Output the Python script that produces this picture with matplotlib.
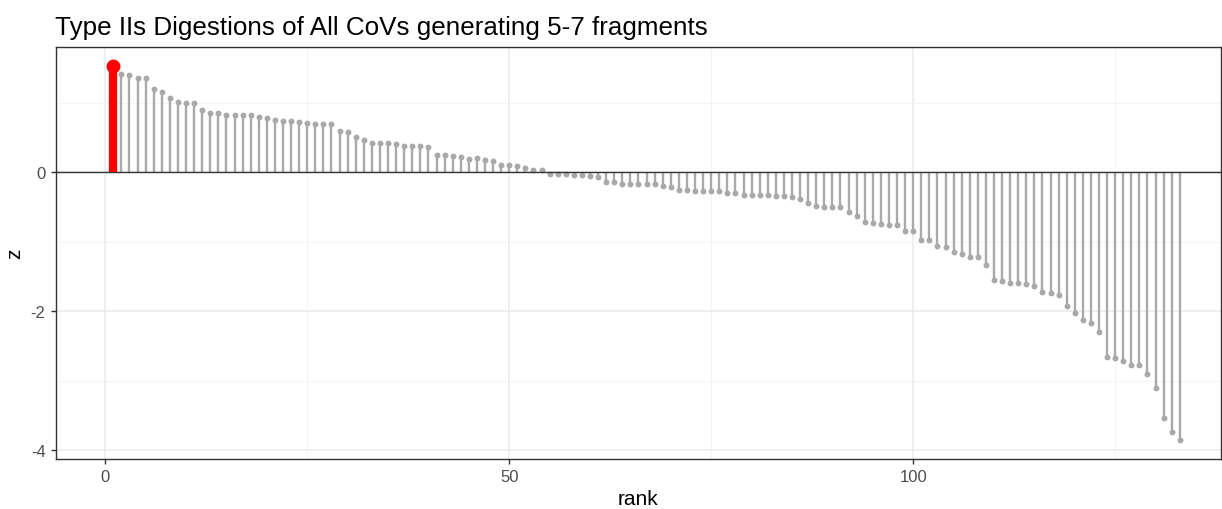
import matplotlib
matplotlib.use("Agg")
import matplotlib.pyplot as plt
import numpy as np

title = "Type IIs Digestions of All CoVs generating 5-7 fragments"
x_label = "rank"
y_label = "z"

z_values = [
    1.53, 1.414, 1.40, 1.357, 1.357, 1.20, 1.155, 1.064, 1.016, 0.997,
    0.997, 0.896, 0.858, 0.858, 0.824, 0.824, 0.83, 0.83, 0.80, 0.78,
    0.753, 0.733, 0.733, 0.72, 0.705, 0.69, 0.69, 0.69, 0.60, 0.585,
    0.508, 0.46, 0.426, 0.417, 0.417, 0.403, 0.383, 0.383, 0.383, 0.369,
    0.249, 0.249, 0.23, 0.216, 0.196, 0.20, 0.18, 0.167, 0.11, 0.11,
    0.09, 0.062, 0.03, 0.03, -0.019, -0.019, -0.019, -0.034, -0.034, -0.053,
    -0.072, -0.134, -0.134, -0.163, -0.163, -0.173, -0.173, -0.173, -0.19, -0.206,
    -0.254, -0.254, -0.27, -0.27, -0.27, -0.27, -0.297, -0.297, -0.326, -0.326,
    -0.326, -0.326, -0.345, -0.345, -0.36, -0.38, -0.436, -0.484, -0.503, -0.503,
    -0.503, -0.575, -0.624, -0.72, -0.73, -0.748, -0.763, -0.763, -0.839, -0.839,
    -0.978, -0.978, -1.055, -1.07, -1.147, -1.18, -1.223, -1.223, -1.334, -1.55,
    -1.568, -1.597, -1.597, -1.612, -1.64, -1.718, -1.737, -1.765, -1.92, -2.03,
    -2.12, -2.165, -2.29, -2.66, -2.676, -2.72, -2.768, -2.768, -2.906, -3.108,
    -3.54, -3.74, -3.847,
]
highlight_rank = 1

x_major_ticks = [0, 50, 100]
x_minor_ticks = [25, 75, 125]
y_major_ticks = [-4, -2, 0]
y_minor_ticks = [-3, -1, 1]

ranks = np.arange(1, len(z_values) + 1)
z = np.array(z_values)

plt.rcParams['font.family'] = ['Liberation Sans', 'DejaVu Sans']
plt.rcParams['axes.unicode_minus'] = False

fig = plt.figure(figsize=(12.22, 5.10), dpi=100)
ax = fig.add_axes([0.0458, 0.098, 0.9534, 0.8073])

grey = "#A9A9A9"
mask = ranks != highlight_rank
ax.vlines(ranks[mask], 0, z[mask], color=grey, linewidth=1.7, zorder=3)
ax.scatter(ranks[mask], z[mask], s=18, color=grey, zorder=4, linewidths=0)
hm = ~mask
ax.vlines(ranks[hm], 0, z[hm], color="#FF0000", linewidth=6, zorder=5)
ax.scatter(ranks[hm], z[hm], s=100, color="#FF0000", zorder=6, linewidths=0)
ax.axhline(0, color="#333333", linewidth=1.0, zorder=4)

ax.set_xlim(-6.1, 138.1)
ax.set_ylim(-4.125, 1.80)

ax.set_xticks(x_major_ticks)
ax.set_xticks(x_minor_ticks, minor=True)
ax.set_yticks(y_major_ticks)
ax.set_yticks(y_minor_ticks, minor=True)
ax.grid(which="major", color="#EBEBEB", linewidth=1.1, zorder=0)
ax.grid(which="minor", color="#F3F3F3", linewidth=0.6, zorder=0)
ax.set_axisbelow(True)

for s in ax.spines.values():
    s.set_color("#333333")
    s.set_linewidth(1.0)

ax.tick_params(which="major", length=3.5, width=1.0, color="#333333",
               labelsize=12, labelcolor="#4D4D4D", pad=4)
ax.tick_params(which="minor", length=0)

ax.set_xlabel(x_label, fontsize=15, color="black", labelpad=3)
ax.set_ylabel(y_label, fontsize=15, color="black")
ax.yaxis.set_label_coords(-0.027, 0.5)
fig.text(0.045, 0.945, title, fontsize=18.7, color="black", ha="left", va="center")

fig.savefig("out.png", dpi=100)
